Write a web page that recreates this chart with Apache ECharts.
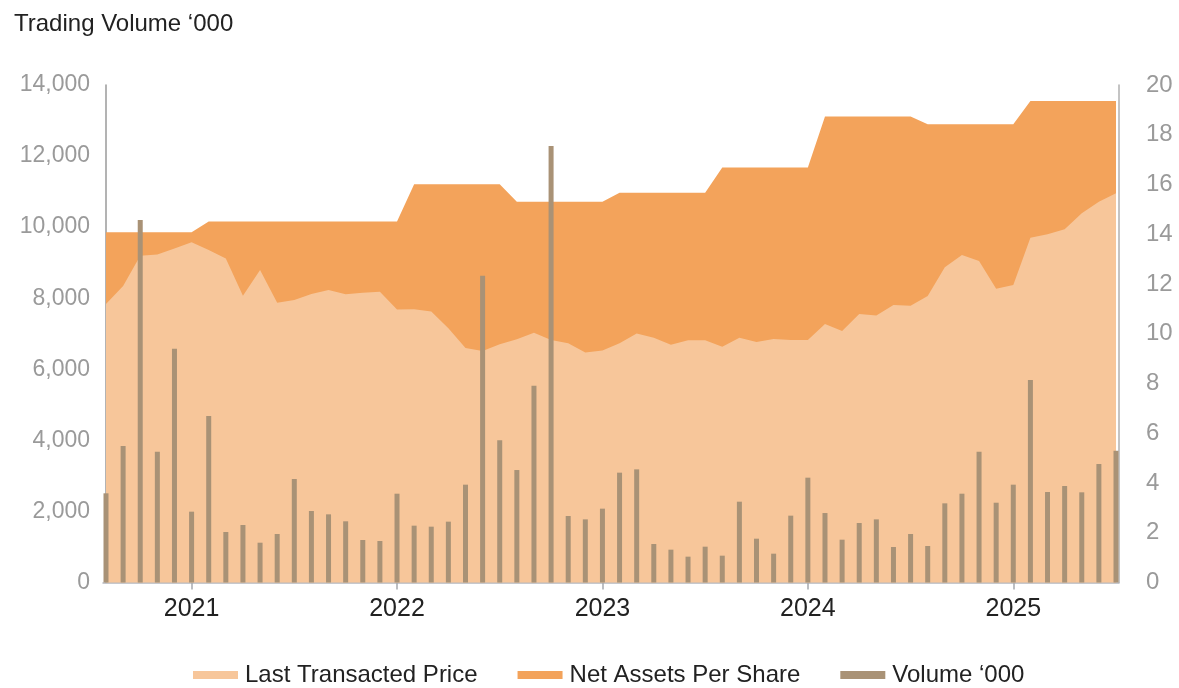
<!DOCTYPE html>
<html>
<head>
<meta charset="utf-8">
<title>Trading Volume</title>
<script src="https://cdn.jsdelivr.net/npm/echarts@6/dist/echarts.min.js"></script>
<style>
  html, body { margin: 0; padding: 0; background: #fff; }
  #chart { width: 1179px; height: 688px; }
</style>
</head>
<body>
<div id="chart"></div>
<script>
const months = [
  '2020-08', '2020-09', '2020-10', '2020-11', '2020-12',
  '2021-01', '2021-02', '2021-03', '2021-04', '2021-05', '2021-06', '2021-07', '2021-08', '2021-09', '2021-10', '2021-11', '2021-12',
  '2022-01', '2022-02', '2022-03', '2022-04', '2022-05', '2022-06', '2022-07', '2022-08', '2022-09', '2022-10', '2022-11', '2022-12',
  '2023-01', '2023-02', '2023-03', '2023-04', '2023-05', '2023-06', '2023-07', '2023-08', '2023-09', '2023-10', '2023-11', '2023-12',
  '2024-01', '2024-02', '2024-03', '2024-04', '2024-05', '2024-06', '2024-07', '2024-08', '2024-09', '2024-10', '2024-11', '2024-12',
  '2025-01', '2025-02', '2025-03', '2025-04', '2025-05', '2025-06', '2025-07'
];

// Trading volume ('000), left axis
const volume = [
  2510, 3841, 10200, 3681, 6579,
  1993, 4685, 1421, 1618, 1120, 1365, 2912, 2012, 1918, 1722, 1196, 1168,
  2499, 1599, 1571, 1712, 2753, 8634, 4000, 3165, 5539, 12282, 1871, 1777,
  2078, 3091, 3184, 1083, 924, 727, 1008, 755, 2274, 1233, 811, 1881,
  2950, 1955, 1205, 1674, 1777, 999, 1365, 1027, 2228, 2499, 3681, 2245,
  2753, 5698, 2546, 2715, 2538, 3334, 3708
];

// Last transacted price, right axis
const lastPrice = [
  11.20, 11.92, 13.14, 13.19, 13.43,
  13.68, 13.37, 13.03, 11.53, 12.56, 11.25, 11.36, 11.60, 11.76, 11.59, 11.65, 11.69,
  10.97, 10.98, 10.89, 10.22, 9.43, 9.31, 9.58, 9.78, 10.04, 9.75, 9.62, 9.25,
  9.33, 9.62, 10.01, 9.84, 9.56, 9.74, 9.74, 9.48, 9.84, 9.67, 9.79, 9.75,
  9.75, 10.39, 10.11, 10.79, 10.73, 11.16, 11.13, 11.52, 12.67, 13.17, 12.92, 11.81,
  11.96, 13.86, 14.00, 14.20, 14.84, 15.31, 15.65
];

// Net assets per share, right axis
const netAssets = [
  14.08, 14.08, 14.08, 14.08, 14.08,
  14.08, 14.51, 14.51, 14.51, 14.51, 14.51, 14.51, 14.51, 14.51, 14.51, 14.51, 14.51,
  14.51, 16.01, 16.01, 16.01, 16.01, 16.01, 16.01, 15.31, 15.31, 15.31, 15.31, 15.31,
  15.31, 15.67, 15.67, 15.67, 15.67, 15.67, 15.67, 16.68, 16.68, 16.68, 16.68, 16.68,
  16.68, 18.73, 18.73, 18.73, 18.73, 18.73, 18.73, 18.42, 18.42, 18.42, 18.42, 18.42,
  18.42, 19.36, 19.36, 19.36, 19.36, 19.36, 19.36
];

// positions of the January ticks
const yearTicks = months.map((m, i) => (m.endsWith('-01') ? i : -1)).filter(i => i >= 0);

const pair = arr => arr.map((v, i) => [i, v]);

const FONT = "'Helvetica Neue', Helvetica, 'Liberation Sans', Arial, sans-serif";

const chart = echarts.init(document.getElementById('chart'));

const option = {
  animation: false,
  textStyle: { fontFamily: FONT },
  title: {
    text: 'Trading Volume \u2018000',
    left: 9,
    top: 7,
    textStyle: { fontFamily: FONT, fontSize: 24, fontWeight: 'normal', color: '#222' }
  },
  legend: {
    left: 188,
    top: 658,
    icon: 'rect',
    itemWidth: 45,
    itemHeight: 8,
    itemGap: 40,
    textStyle: { fontFamily: FONT, fontSize: 24, color: '#222', padding: [0, 0, 0, 2] },
    data: ['Last Transacted Price', 'Net Assets Per Share', 'Volume \u2018000']
  },
  grid: {
    left: 103,
    right: 60,
    top: 85,
    bottom: 105.5,
    containLabel: false
  },
  xAxis: {
    type: 'value',
    min: -0.175,
    max: 59.175,
    splitLine: { show: false },
    axisLine: { show: true, lineStyle: { color: '#b4b7bd', width: 1.5 } },
    axisTick: {
      show: true,
      customValues: yearTicks,
      length: 7,
      lineStyle: { color: '#a6a9ae', width: 1.5 }
    },
    axisLabel: {
      customValues: yearTicks,
      formatter: v => months[Math.round(v)].slice(0, 4),
      fontSize: 25,
      color: '#222',
      margin: 14
    }
  },
  yAxis: [
    {
      type: 'value',
      min: 0,
      max: 14000,
      interval: 2000,
      splitLine: { show: false },
      axisLine: { show: true, lineStyle: { color: '#9a9a9a', width: 1.5 } },
      axisTick: { show: false },
      axisLabel: {
        fontSize: 23,
        color: '#9a9a9a',
        margin: 13,
        formatter: v => v.toLocaleString('en-US')
      }
    },
    {
      type: 'value',
      min: 0,
      max: 20,
      interval: 2,
      position: 'right',
      splitLine: { show: false },
      axisLine: { show: true, lineStyle: { color: '#b0b0b0', width: 1.5 } },
      axisTick: { show: false },
      axisLabel: {
        fontSize: 24,
        color: '#9a9a9a',
        margin: 27
      }
    }
  ],
  series: [
    {
      name: 'Net Assets Per Share',
      type: 'line',
      yAxisIndex: 1,
      z: 1,
      symbol: 'none',
      color: '#f3a35b',
      lineStyle: { width: 0 },
      areaStyle: { color: '#f3a35b', opacity: 1 },
      data: pair(netAssets)
    },
    {
      name: 'Last Transacted Price',
      type: 'line',
      yAxisIndex: 1,
      z: 2,
      symbol: 'none',
      color: '#f7c69a',
      lineStyle: { width: 0 },
      areaStyle: { color: '#f7c69a', opacity: 1 },
      data: pair(lastPrice)
    },
    {
      name: 'Volume \u2018000',
      type: 'bar',
      yAxisIndex: 0,
      z: 3,
      barWidth: 5,
      color: '#a99276',
      itemStyle: { color: '#a99276' },
      data: pair(volume)
    }
  ]
};

chart.setOption(option);
</script>
</body>
</html>
